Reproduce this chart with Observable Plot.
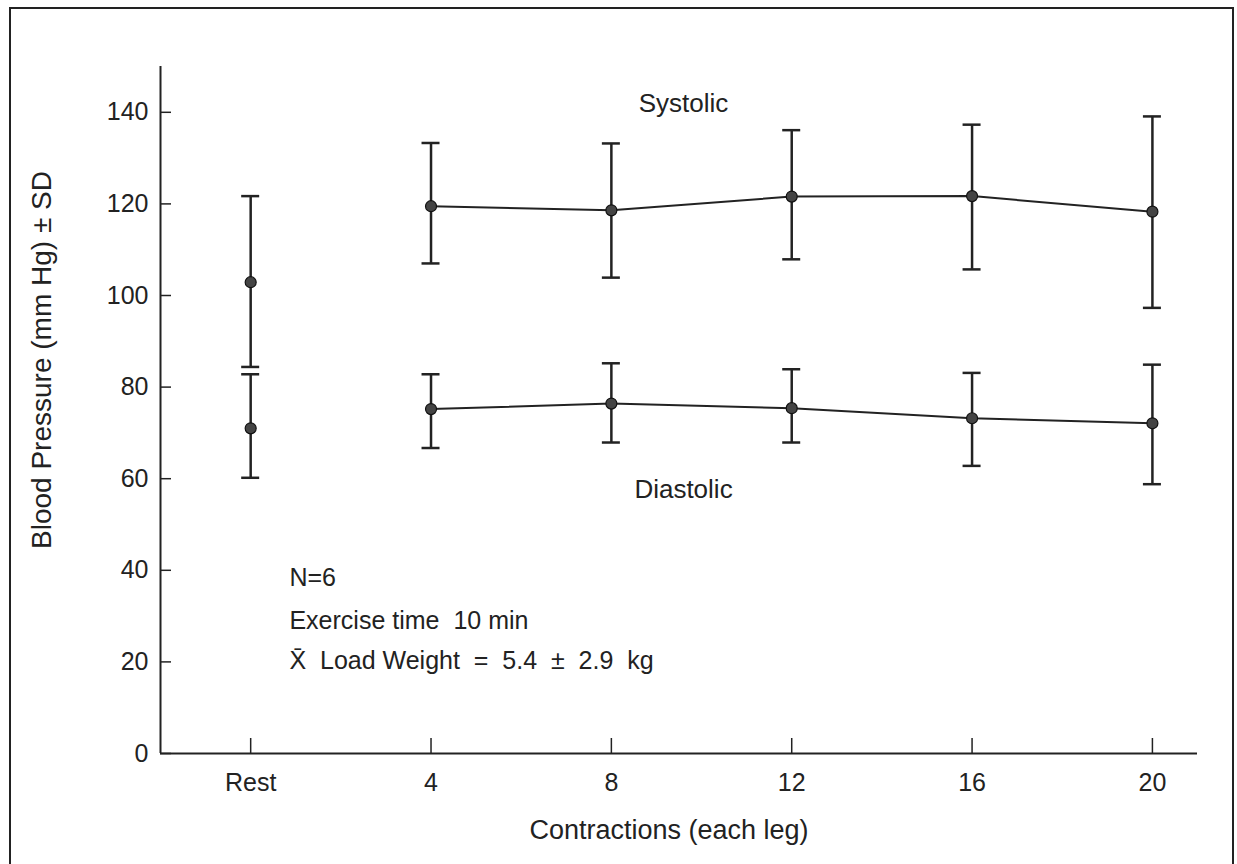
<!DOCTYPE html>
<html><head><meta charset="utf-8">
<script src="https://cdn.jsdelivr.net/npm/d3@7"></script>
<script src="https://cdn.jsdelivr.net/npm/@observablehq/plot@0.6"></script>
<style>
body{margin:0;background:#fff;}
#wrap{position:relative;width:1237px;height:864px;overflow:hidden;}
#frame{position:absolute;left:9px;top:7px;width:1225px;height:900px;border:2px solid #222;box-sizing:border-box;pointer-events:none;}
#chart{position:absolute;left:0;top:0;}
</style></head>
<body><div id="wrap"><div id="chart"></div><div id="frame"></div></div>
<script>
const xPositions = [0, 4, 8, 12, 16, 20];
const xTickLabels = ["Rest", "4", "8", "12", "16", "20"];
const systolicMean = [102.9, 119.5, 118.6, 121.6, 121.7, 118.3];
const systolicLow  = [84.4, 107.0, 103.9, 107.9, 105.7, 97.3];
const systolicHigh = [121.7, 133.3, 133.2, 136.1, 137.3, 139.1];
const diastolicMean = [71.0, 75.2, 76.4, 75.4, 73.2, 72.1];
const diastolicLow  = [60.2, 66.7, 67.9, 67.9, 62.8, 58.8];
const diastolicHigh = [82.8, 82.8, 85.2, 83.9, 83.1, 84.9];
const yTicks = [0, 20, 40, 60, 80, 100, 120, 140];
const notes = ["N=6", "Exercise time  10 min", "X\u0304  Load Weight  =  5.4  \u00b1  2.9  kg"];

const rows = [];
xPositions.forEach((x, i) => {
  rows.push({series: "Systolic", x, mean: systolicMean[i], lo: systolicLow[i], hi: systolicHigh[i]});
  rows.push({series: "Diastolic", x, mean: diastolicMean[i], lo: diastolicLow[i], hi: diastolicHigh[i]});
});
const exerciseRows = rows.filter(d => d.x > 0);

const ink = "#222";
const W = 1237, H = 864, mL = 160, mR = 40, mT = 66, mB = 111;
const frameW = W - mL - mR, frameH = H - mT - mB;

const chart = Plot.plot({
  width: W, height: H,
  marginLeft: mL, marginRight: mR, marginTop: mT, marginBottom: mB,
  style: {fontFamily: "'Liberation Sans', Arial, sans-serif", color: ink, background: "white"},
  x: {domain: [-2, 21]},
  y: {domain: [0, 150]},
  marks: [
    Plot.ruleX([-2], {stroke: ink, strokeWidth: 2}),
    Plot.ruleY([0], {stroke: ink, strokeWidth: 2}),
    Plot.tickY(yTicks, {y: d => d, stroke: ink, strokeWidth: 1.5, insetRight: frameW - 11}),
    Plot.tickX(xPositions, {x: d => d, stroke: ink, strokeWidth: 1.5, insetTop: frameH - 15}),
    Plot.axisY({ticks: yTicks, tickSize: 0, tickPadding: 12, fontSize: 25, label: null, tickFormat: d => String(d)}),
    Plot.axisX({ticks: xPositions, tickSize: 0, tickPadding: 20, fontSize: 25, label: null,
      tickFormat: d => xTickLabels[xPositions.indexOf(d)]}),
    Plot.ruleX(rows, {x: "x", y1: "lo", y2: "hi", stroke: ink, strokeWidth: 2.5}),
    Plot.ruleY(rows, {y: "hi", x1: "x", x2: "x", insetLeft: -9, insetRight: -9, stroke: ink, strokeWidth: 2.5}),
    Plot.ruleY(rows, {y: "lo", x1: "x", x2: "x", insetLeft: -9, insetRight: -9, stroke: ink, strokeWidth: 2.5}),
    Plot.line(exerciseRows, {x: "x", y: "mean", z: "series", stroke: ink, strokeWidth: 2}),
    Plot.dot(rows, {x: "x", y: "mean", r: 5.5, fill: "#444", stroke: "#111", strokeWidth: 1.2}),
    Plot.text(["Systolic"], {x: 9.6, y: 141.9, fontSize: 26, fill: ink}),
    Plot.text(["Diastolic"], {x: 9.6, y: 57.6, fontSize: 26, fill: ink}),
    Plot.text([notes[0]], {x: 0.86, y: 38.4, textAnchor: "start", fontSize: 25, fill: ink}),
    Plot.text([notes[1]], {x: 0.86, y: 29.0, textAnchor: "start", fontSize: 25, fill: ink}),
    Plot.text([notes[2]], {x: 0.86, y: 20.1, textAnchor: "start", fontSize: 25, fill: ink}),
    Plot.text(["Blood Pressure (mm Hg) \u00b1 SD"], {frameAnchor: "left", textAnchor: "middle", lineAnchor: "middle",
      dx: -118, dy: -50, rotate: -90, fontSize: 28, fill: ink}),
    Plot.text(["Contractions (each leg)"], {frameAnchor: "bottom", textAnchor: "middle", lineAnchor: "middle",
      dx: -10, dy: 77, fontSize: 27, fill: ink})
  ]
});
document.getElementById("chart").appendChild(chart);
</script>
</body></html>
